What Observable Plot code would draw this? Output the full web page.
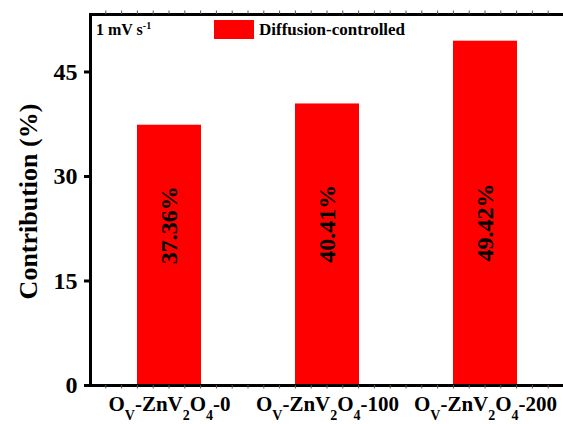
<!DOCTYPE html>
<html><head><meta charset="utf-8">
<script src="https://cdn.jsdelivr.net/npm/d3@7"></script>
<script src="https://cdn.jsdelivr.net/npm/@observablehq/plot@0.6"></script>
<style>
html,body{margin:0;padding:0;background:#fff;overflow:hidden;}
#chart svg{display:block;}
#chart svg text{font-family:'Liberation Serif','Times New Roman',serif;font-weight:bold;}
</style></head><body><div id="chart"></div>
<script>
const samples = ["O_V-ZnV_2O_4-0", "O_V-ZnV_2O_4-100", "O_V-ZnV_2O_4-200"];
const contribution = [37.36, 40.41, 49.42];
const barLabels = ["37.36%", "40.41%", "49.42%"];
const yTicks = [0, 15, 30, 45];
const yMax = 53.25;
const labelLevel = [23, 23.2, 23.4];
const seriesName = "Diffusion-controlled";
const scanRate = "1 mV s";
const scanRateSup = "-1";
const yTitle = "Contribution (%)";

const data = samples.map((s, i) => ({sample: s, value: contribution[i], label: barLabels[i], ly: labelLevel[i]}));
const font = "'Liberation Serif','Times New Roman',serif";

const plot = Plot.plot({
  width: 563, height: 424,
  marginLeft: 90, marginRight: -2, marginTop: 14, marginBottom: 39,
  style: `font-family: ${font}; font-weight: bold; background: #fff; color: #000; overflow: visible;`,
  x: {domain: samples, paddingInner: 0.592, paddingOuter: 0.296},
  y: {domain: [0, yMax]},
  marks: [
    Plot.barY(data, {x: "sample", y: "value", fill: "#ff0000"}),
    Plot.text(data, {x: "sample", y: "ly", text: "label", rotate: -90, fontSize: 24, fontWeight: "bold", fontFamily: font, fill: "#000", lineAnchor: "middle", textAnchor: "middle"}),
    Plot.axisY(yTicks, {tickSize: 6, tickPadding: 7, fontSize: 24, fontFamily: font, strokeWidth: 3, label: null}),
    Plot.axisX({tickSize: 0, tickPadding: 11, fontSize: 21, fontFamily: font, label: null}),
    Plot.frame({stroke: "#000", strokeWidth: 3})
  ]
});

const svg = d3.select(plot);
const xs = plot.scale("x");
const ys = plot.scale("y");
const [x0, x1] = xs.range;
const minorStep = xs.step / 10;
const yTop = ys.apply(yMax), yBot = ys.apply(0);
const minor = d3.range(x0 + minorStep, x1 - 1, minorStep);
const mg = svg.append("g").attr("stroke", "#555").attr("stroke-width", 1);
minor.forEach(x => {
  mg.append("line").attr("x1", x).attr("x2", x).attr("y1", yTop - 3.5).attr("y2", yTop);
  mg.append("line").attr("x1", x).attr("x2", x).attr("y1", yBot).attr("y2", yBot + 3.5);
});

// subscripts in x tick labels
svg.selectAll('g[aria-label="x-axis tick label"] text').each(function () {
  const t = d3.select(this);
  const s = t.text();
  t.text(null);
  const parts = s.split(/(_[A-Za-z0-9])/).filter(p => p);
  let sub = false;
  parts.forEach(p => {
    if (p.startsWith("_")) {
      t.append("tspan").attr("dy", 9).attr("font-size", 14).text(p.slice(1));
      sub = true;
    } else {
      const ts = t.append("tspan").text(p);
      if (sub) { ts.attr("dy", -9); sub = false; }
    }
  });
});

// y title
svg.append("text")
  .attr("transform", `translate(28,${(yTop + yBot) / 2 + 2}) rotate(-90)`)
  .attr("text-anchor", "middle").attr("dominant-baseline", "central")
  .attr("font-family", font)
  .attr("font-size", 26).attr("font-weight", "bold").attr("fill", "#000")
  .text(yTitle);

// scan-rate annotation
const ann = svg.append("text").attr("x", 96).attr("y", 35).attr("text-anchor", "start")
  .attr("font-family", font)
  .attr("font-size", 16).attr("font-weight", "bold").attr("fill", "#000");
ann.append("tspan").text(scanRate);
ann.append("tspan").attr("dy", -6).attr("font-size", 10).text(scanRateSup);

// legend
svg.append("rect").attr("x", 214).attr("y", 20).attr("width", 40).attr("height", 19).attr("fill", "#ff0000");
svg.append("text").attr("x", 259).attr("y", 35).attr("text-anchor", "start")
  .attr("font-family", font)
  .attr("font-size", 17).attr("font-weight", "bold").attr("fill", "#000").text(seriesName);

document.getElementById("chart").appendChild(plot);
</script>
</body></html>
